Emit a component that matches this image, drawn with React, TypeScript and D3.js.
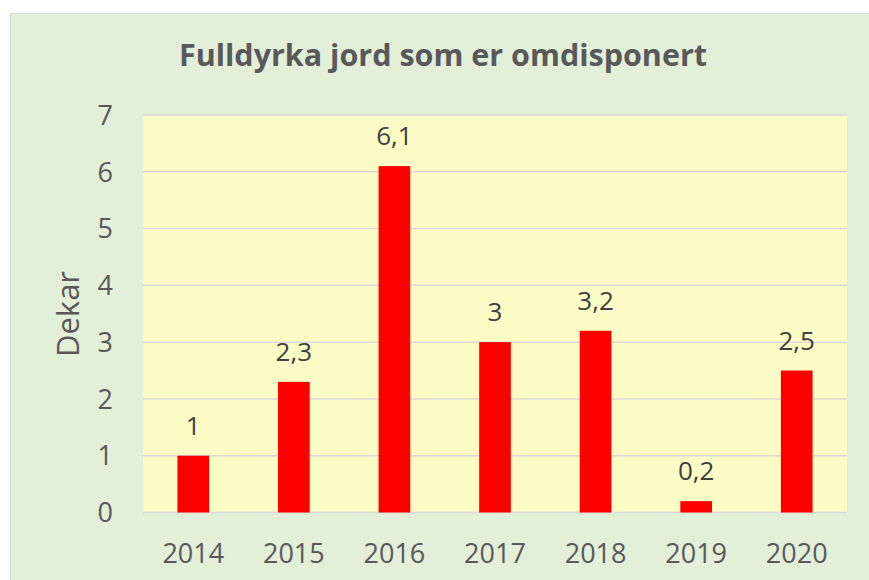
import React from "react";
import * as d3 from "d3";

const categories = ["2014", "2015", "2016", "2017", "2018", "2019", "2020"];
const values = [1, 2.3, 6.1, 3, 3.2, 0.2, 2.5];
const yTicks = [0, 1, 2, 3, 4, 5, 6, 7];
const title = "Fulldyrka jord som er omdisponert";
const yTitle = "Dekar";

const W = 869;
const H = 580;
const plot = { left: 143, right: 847, top: 115, bottom: 512.5 };
const FONT = "'Open Sans', 'Liberation Sans', sans-serif";

export default function App() {
  const x = d3
    .scaleBand<string>()
    .domain(categories)
    .range([plot.left, plot.right])
    .paddingInner(0.685)
    .paddingOuter(0.3425);
  const y = d3.scaleLinear().domain([0, 7]).range([plot.bottom, plot.top]);
  const fmt = (v: number) => String(v).replace(".", ",");

  return (
    <svg
      width={W}
      height={H}
      style={{ position: "absolute", left: 0, top: 0 }}
      fontFamily={FONT}
    >
      <rect x={0} y={0} width={W} height={H} fill="#ffffff" />
      <rect x={10.5} y={13.5} width={W} height={H} fill="#e2efd9" stroke="#d9d9d9" strokeWidth={1} />
      <rect
        x={plot.left}
        y={plot.top}
        width={plot.right - plot.left}
        height={plot.bottom - plot.top}
        fill="#fbfbc6"
      />
      {yTicks.map((t) => (
        <g key={t}>
          <line
            x1={plot.left}
            x2={plot.right}
            y1={y(t)}
            y2={y(t)}
            stroke="#d9d9d9"
            strokeWidth={1.5}
          />
          <text
            x={113}
            y={y(t)}
            dy="0.36em"
            textAnchor="end"
            fontSize={27}
            fill="#595959"
          >
            {t}
          </text>
        </g>
      ))}
      {categories.map((c, i) => (
        <g key={c}>
          <rect
            x={x(c)}
            y={y(values[i])}
            width={x.bandwidth()}
            height={y(0) - y(values[i])}
            fill="#ff0000"
          />
          <text
            x={(x(c) as number) + x.bandwidth() / 2}
            y={y(values[i]) - 21}
            textAnchor="middle"
            fontSize={26}
            fill="#404040"
          >
            {fmt(values[i])}
          </text>
          <text
            x={(x(c) as number) + x.bandwidth() / 2}
            y={563}
            textAnchor="middle"
            fontSize={27}
            fill="#595959"
          >
            {c}
          </text>
        </g>
      ))}
      <text
        x={443}
        y={66}
        textAnchor="middle"
        fontSize={30.5}
        fontWeight="bold"
        fill="#595959"
      >
        {title}
      </text>
      <text
        transform={`translate(79, 314) rotate(-90)`}
        textAnchor="middle"
        fontSize={31}
        fill="#595959"
      >
        {yTitle}
      </text>
    </svg>
  );
}
